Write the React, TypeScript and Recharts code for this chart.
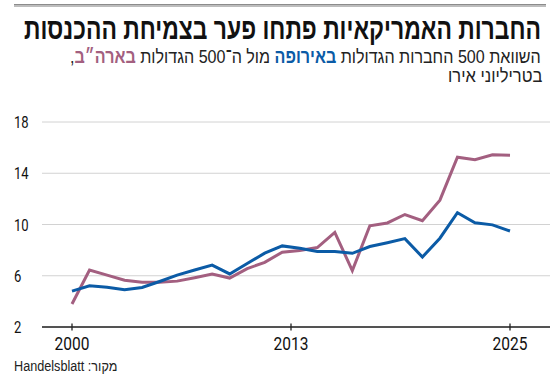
import React, { useLayoutEffect, useRef, useState } from 'react';
import { LineChart, Line, XAxis, YAxis, CartesianGrid } from 'recharts';

const years = [2000, 2001, 2002, 2003, 2004, 2005, 2006, 2007, 2008, 2009, 2010, 2011, 2012, 2013, 2014, 2015, 2016, 2017, 2018, 2019, 2020, 2021, 2022, 2023, 2024, 2025];
const usa = [3.8, 6.45, 6.05, 5.65, 5.5, 5.5, 5.58, 5.85, 6.14, 5.82, 6.55, 7.05, 7.84, 7.97, 8.2, 9.38, 6.4, 9.9, 10.12, 10.78, 10.3, 11.9, 15.25, 15.06, 15.44, 15.4];
const europe = [4.8, 5.22, 5.1, 4.9, 5.08, 5.55, 6.05, 6.45, 6.83, 6.14, 6.95, 7.76, 8.33, 8.15, 7.89, 7.9, 7.75, 8.28, 8.58, 8.9, 7.46, 8.93, 10.92, 10.14, 9.97, 9.49];
const xTickPositions = [0, 12.5, 25];
const xTickLabels = ['2000', '2013', '2025'];
const yTicks = [2, 6, 10, 14, 18];

const BLUE = '#0b5ba6';
const MAUVE = '#a35f80';
const DIGITS = "'Roboto', 'Liberation Sans', sans-serif";
const HEB = "'Liberation Sans', 'Arial', sans-serif";

const data = years.map((y, i) => ({ idx: i, year: y, usa: usa[i], europe: europe[i] }));

const XTick = (props: any) => {
  const { x, y, payload } = props;
  const k = xTickPositions.indexOf(payload.value);
  return (
    <g>
      <line x1={x} x2={x} y1={y - 3.5} y2={y + 3.5} stroke="#222" strokeWidth={1.3} />
      <text transform={`translate(${x},${y + 23}) scale(0.84,1)`} textAnchor="middle" fontFamily={DIGITS} fontSize={18.5} fill="#111">
        {k >= 0 ? xTickLabels[k] : ''}
      </text>
    </g>
  );
};

const YTick = (props: any) => {
  const { y, payload } = props;
  return (
    <text transform={`translate(14,${y + 6}) scale(0.8,1)`} textAnchor="start" fontFamily={DIGITS} fontSize={16.3} fill="#111">
      {payload.value}
    </text>
  );
};

type FitProps = { side: 'left' | 'right'; pos: number; top: number; width: number; style: React.CSSProperties; children: React.ReactNode };

function FitLine({ side, pos, top, width, style, children }: FitProps) {
  const ref = useRef<HTMLDivElement>(null);
  const [s, setS] = useState(1);
  useLayoutEffect(() => {
    if (ref.current) {
      const w = ref.current.offsetWidth;
      if (w > 0) setS(width / w);
    }
  }, [width]);
  const posStyle: React.CSSProperties = side === 'right' ? { right: pos } : { left: pos };
  return (
    <div
      ref={ref}
      dir="rtl"
      style={{
        position: 'absolute',
        top,
        ...posStyle,
        whiteSpace: 'nowrap',
        width: 'max-content',
        transform: `scaleX(${s})`,
        transformOrigin: side === 'right' ? 'right center' : 'left center',
        ...style,
      }}
    >
      {children}
    </div>
  );
}

export default function App() {
  return (
    <div style={{ position: 'absolute', left: 0, top: 0, width: 550, height: 384, background: '#fff', overflow: 'hidden' }}>
      <LineChart width={550} height={384} data={data} margin={{ top: 122, right: 0, bottom: 0, left: 0 }}>
        <CartesianGrid horizontal vertical={false} stroke="#d2d2d2" strokeWidth={1} />
        <XAxis
          dataKey="idx"
          type="number"
          domain={[0, 25]}
          ticks={xTickPositions}
          padding={{ left: 30, right: 40 }}
          height={57}
          tickSize={0}
          tickMargin={0}
          tickLine={false}
          axisLine={{ stroke: '#222', strokeWidth: 1.3 }}
          tick={<XTick />}
          interval={0}
        />
        <YAxis
          type="number"
          domain={[2, 18]}
          ticks={yTicks}
          width={42}
          axisLine={false}
          tickLine={false}
          tick={<YTick />}
          interval={0}
        />
        <Line dataKey="usa" stroke={MAUVE} strokeWidth={3} dot={false} isAnimationActive={false} />
        <Line dataKey="europe" stroke={BLUE} strokeWidth={3} dot={false} isAnimationActive={false} />
      </LineChart>

      <div style={{ position: 'absolute', left: 14, top: 4, width: 532, height: 1, background: '#8c8c8c' }} />
      <div style={{ position: 'absolute', left: 14, top: 5, width: 532, height: 2, background: '#bdbdbd' }} />

      <FitLine side="right" pos={9} top={12} width={517} style={{ fontFamily: HEB, fontWeight: 700, fontSize: 30, lineHeight: '34px', color: '#111' }}>
        החברות האמריקאיות פתחו פער בצמיחת ההכנסות
      </FitLine>
      <FitLine side="right" pos={9} top={46} width={471} style={{ fontFamily: HEB, fontSize: 19, lineHeight: '22px', color: '#222' }}>
        השוואת 500 החברות הגדולות <span style={{ color: BLUE, fontWeight: 700 }}>באירופה</span> מול ה־500 הגדולות <span style={{ color: MAUVE, fontWeight: 700 }}>בארה״ב</span>,
      </FitLine>
      <FitLine side="right" pos={8} top={65} width={94} style={{ fontFamily: HEB, fontSize: 19, lineHeight: '22px', color: '#222' }}>
        בטריליוני אירו
      </FitLine>

      <FitLine side="left" pos={14} top={358} width={103} style={{ fontFamily: HEB, fontSize: 14, lineHeight: '16px', color: '#222' }}>
        מקור: Handelsblatt
      </FitLine>
    </div>
  );
}
